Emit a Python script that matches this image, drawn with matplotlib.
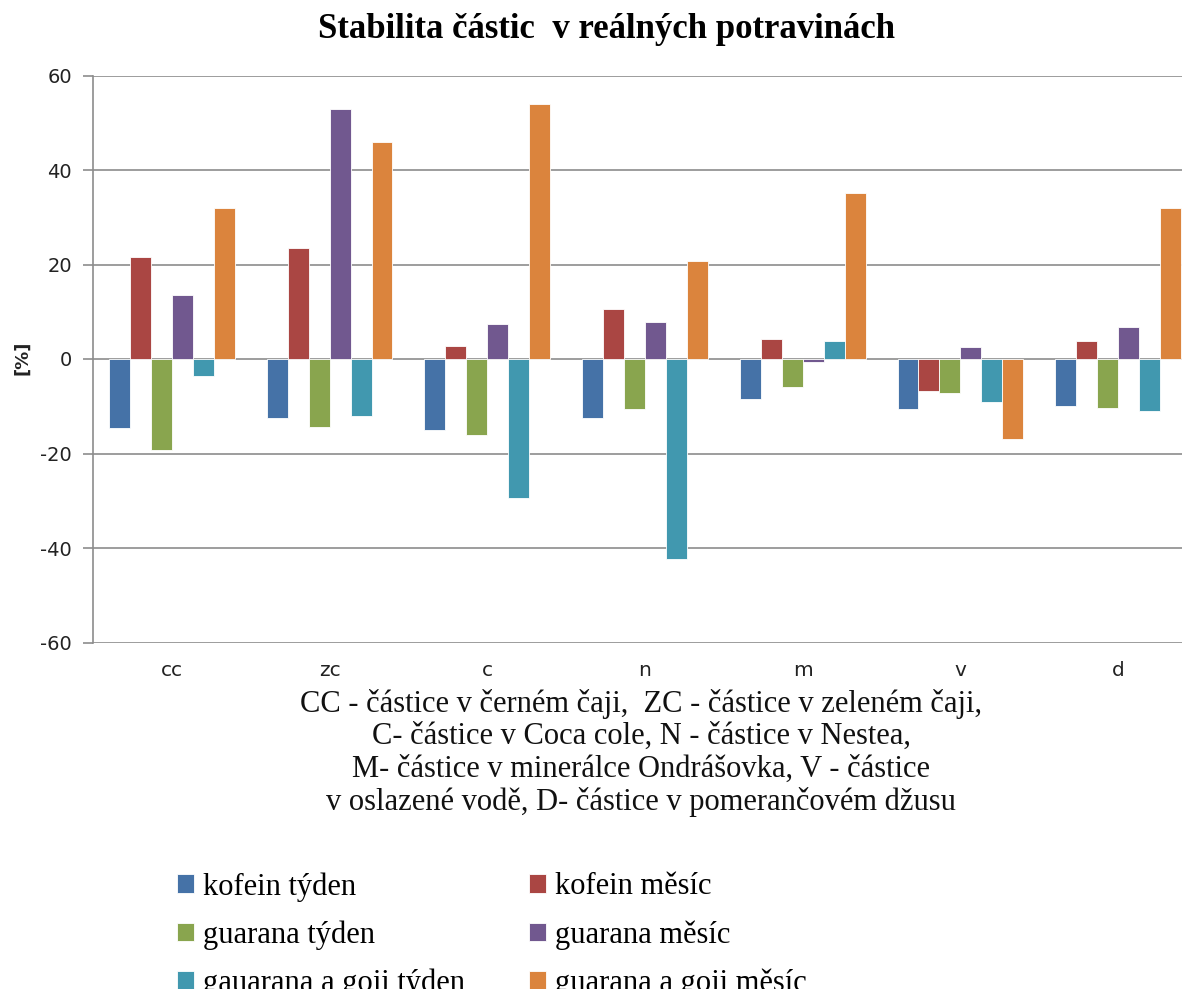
import numpy as np
import matplotlib
matplotlib.use("Agg")
import matplotlib.pyplot as plt

plt.rcParams["axes.unicode_minus"] = False

# Categories (x axis)
categories = ["cc", "zc", "c", "n", "m", "v", "d"]

# Series values [%]
kofein_tyden = [-14.5, -12.5, -15.0, -12.5, -8.5, -10.5, -10.0]
kofein_mesic = [21.5, 23.5, 2.7, 10.5, 4.2, -6.7, 3.8]
guarana_tyden = [-19.2, -14.4, -16.0, -10.5, -6.0, -7.1, -10.4]
guarana_mesic = [13.5, 53.0, 7.5, 7.8, -0.7, 2.6, 6.8]
goji_tyden = [-3.7, -12.1, -29.4, -42.4, 3.9, -9.0, -10.9]
goji_mesic = [32.0, 46.0, 53.9, 20.8, 35.2, -17.0, 32.0]

series_names = ["kofein týden", "kofein měsíc", "guarana týden", "guarana měsíc",
                "gauarana a goji týden", "guarana a goji měsíc"]
series = [kofein_tyden, kofein_mesic, guarana_tyden, guarana_mesic, goji_tyden, goji_mesic]
colors = ["#4572A7", "#AA4643", "#89A54E", "#71588F", "#4198AF", "#DB843D"]

caption = ("CC - částice v černém čaji,  ZC - částice v zeleném čaji,\n"
           "C- částice v Coca cole, N - částice v Nestea,\n"
           "M- částice v minerálce Ondrášovka, V - částice\n"
           "v oslazené vodě, D- částice v pomerančovém džusu")

W, H = 1182, 989
fig = plt.figure(figsize=(W / 100, H / 100), dpi=100)

# plot area in pixels; right edge runs past the picture like in the original
left, right, top, bottom = 93, 1197, 75.5, 642.5
ax = fig.add_axes([left / W, 1 - bottom / H, (right - left) / W, (bottom - top) / H])

x = np.arange(len(categories))
bw = 0.133
bars = []
for i, (vals, c) in enumerate(zip(series, colors)):
    b = ax.bar(x + (i - 2.5) * bw, vals, bw, color=c, edgecolor="white", linewidth=0.6, zorder=3)
    bars.append(b)

ax.set_xlim(-0.5, len(categories) - 0.5)
ax.set_ylim(-60, 60)
ax.set_yticks(range(-60, 61, 20))
ax.yaxis.grid(True, color="#8c8c8c", linewidth=1.2, zorder=0)
ax.set_xticks(x)
ax.set_xticklabels(categories)
ax.tick_params(axis="x", length=0, pad=13, labelsize=14.5, colors="#222222")
ax.tick_params(axis="y", length=7, width=1.2, color="#8c8c8c", pad=8, labelsize=14, labelcolor="#222222")
for s in ["top", "right", "bottom"]:
    ax.spines[s].set_visible(False)
ax.spines["left"].set_color("#8c8c8c")
ax.spines["left"].set_linewidth(1.2)

fig.text(22 / W, 1 - 358 / H, "[%]", rotation=90, ha="center", va="center",
         fontsize=13, fontweight="bold", color="#222222")

fig.text(607 / W, 1 - 30 / H, "Stabilita částic  v reálných potravinách", ha="center", va="center",
         family="Liberation Serif", fontweight="bold", fontsize=25)

fig.text(641 / W, 1 - 753 / H, caption, ha="center", va="center", family="Liberation Serif",
         fontsize=22, linespacing=1.16, color="#111111")

order = [0, 2, 4, 1, 3, 5]
fig.legend([bars[i] for i in order], [series_names[i] for i in order], ncol=2,
           loc="upper left", bbox_to_anchor=(177 / W, 1 - 872 / H), frameon=False,
           borderpad=0, borderaxespad=0,
           prop={"family": "Liberation Serif", "size": 22}, handlelength=0.55, handleheight=0.55,
           handletextpad=0.3, columnspacing=2.1, labelspacing=0.62)

fig.savefig("out.png", dpi=100)
